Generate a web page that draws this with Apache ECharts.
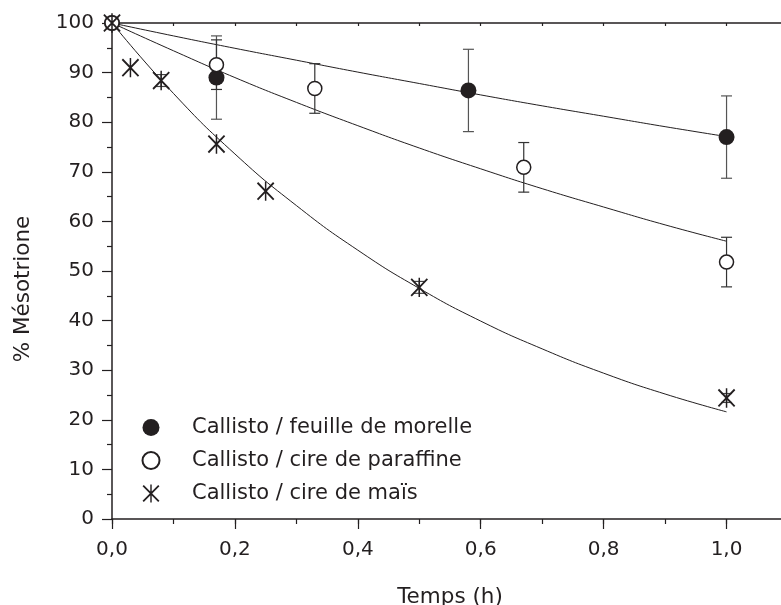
<!DOCTYPE html>
<html><head><meta charset="utf-8">
<script src="https://cdn.jsdelivr.net/npm/echarts@6/dist/echarts.min.js"></script>
<style>html,body{margin:0;padding:0;overflow:hidden;background:#fff}#c{width:800px;height:605px}</style>
</head><body><div id="c"></div>
<script>
// ---- data ----
const seriesNames = ['Callisto / feuille de morelle', 'Callisto / cire de paraffine', 'Callisto / cire de maïs'];
const timeFeuille = [0, 0.17, 0.58, 1.0];
const valFeuille  = [100, 89.0, 86.4, 77.0];
const errFeuille  = [0, 8.4, 8.3, 8.3];
const timeParaffine = [0, 0.17, 0.33, 0.67, 1.0];
const valParaffine  = [100, 91.6, 86.8, 70.9, 51.8];
const errParaffine  = [0, 5.0, 5.0, 5.0, 5.0];
const timeMais = [0, 0.03, 0.08, 0.17, 0.25, 0.5, 1.0];
const valMais  = [100, 91.0, 88.4, 75.6, 66.1, 46.7, 24.4];
const errMais  = [0, 0, 1.2, 0, 0, 1.2, 0.9];
// fitted curves, read at regular times
const fitTime      = [0, 0.1, 0.2, 0.3, 0.4, 0.5, 0.6, 0.7, 0.8, 0.9, 1.0];
const fitFeuille   = [100, 97.4, 94.9, 92.5, 90.1, 87.8, 85.5, 83.3, 81.2, 79.1, 77.1];
const fitParaffine = [100, 94.4, 89.0, 84.0, 79.3, 74.8, 70.6, 66.6, 62.9, 59.3, 56.0];
const fitMais      = [100, 85.8, 73.6, 63.2, 54.2, 46.5, 39.9, 34.3, 29.4, 25.2, 21.6];
const xAxisTitle = 'Temps (h)';
const yAxisTitle = '% Mésotrione';

// ---- styling ----
const INK = '#231f20';
const FONT = 'DejaVu Sans';
const STAR = 'path://M46,0 L54,0 L54,100 L46,100 Z M10,3 L97,90 L90,97 L3,10 Z M97,10 L10,97 L3,90 L90,3 Z';

const zip = (xs, ys) => xs.map((x, i) => [x, ys[i]]);
const errData = (xs, ys, es) => xs.map((x, i) => [x, ys[i] - es[i], ys[i] + es[i]]).filter((d, i) => es[i] > 0);

function errSeries(data, color) {
  return {
    type: 'custom', xAxisIndex: 0, yAxisIndex: 0, z: 3, silent: true,
    data: data, encode: { x: 0, y: [1, 2] },
    renderItem: function (params, api) {
      const x = api.value(0), lo = api.value(1), hi = api.value(2);
      const a = api.coord([x, lo]), b = api.coord([x, hi]);
      const hw = 5.5, st = { stroke: color, lineWidth: 1.2 };
      return { type: 'group', children: [
        { type: 'line', shape: { x1: a[0], y1: a[1], x2: b[0], y2: b[1] }, style: st },
        { type: 'line', shape: { x1: a[0] - hw, y1: a[1], x2: a[0] + hw, y2: a[1] }, style: st },
        { type: 'line', shape: { x1: b[0] - hw, y1: b[1], x2: b[0] + hw, y2: b[1] }, style: st }
      ] };
    }
  };
}
function fitSeries(ys) {
  return { type: 'line', name: 'fit', xAxisIndex: 0, yAxisIndex: 0, data: zip(fitTime, ys), smooth: true,
    showSymbol: false, silent: true, z: 2, lineStyle: { color: INK, width: 1 } };
}

const chart = echarts.init(document.getElementById('c'), null, { renderer: 'canvas' });
const axisLine = { show: true, lineStyle: { color: INK, width: 1.5 } };
chart.setOption({
  animation: false,
  backgroundColor: '#fff',
  textStyle: { fontFamily: FONT, color: INK },
  grid: { left: 112, right: 12, top: 23, bottom: 86, containLabel: false, outerBoundsMode: 'none' },
  xAxis: [
    { type: 'value', position: 'bottom', min: 0, max: 1.1, interval: 0.2,
      axisLine: axisLine, splitLine: { show: false },
      axisTick: { show: true, inside: false, length: 10, lineStyle: { color: INK, width: 1.2 } },
      axisLabel: { margin: 21, fontSize: 20, fontFamily: FONT, color: INK, showMaxLabel: false,
        formatter: v => (v <= 1.0001 && Math.round(v * 10) % 2 === 0) ? v.toFixed(1).replace('.', ',') : '' },
      name: xAxisTitle, nameLocation: 'middle', nameGap: 67,
      nameTextStyle: { fontSize: 21.5, fontFamily: FONT, color: INK } },
    { type: 'value', position: 'bottom', min: 0, max: 1.1, interval: 0.1,
      axisLine: { show: false }, splitLine: { show: false }, axisLabel: { show: false },
      axisTick: { show: true, inside: false, length: 5, lineStyle: { color: INK, width: 1.2 } } },
    { type: 'value', position: 'top', min: 0, max: 1.1, interval: 0.1,
      axisLine: axisLine, splitLine: { show: false }, axisLabel: { show: false },
      axisTick: { show: true, inside: true, length: 3, lineStyle: { color: INK, width: 1.2 } } }
  ],
  yAxis: [
    { type: 'value', position: 'left', min: 0, max: 100, interval: 10,
      axisLine: axisLine, splitLine: { show: false },
      axisTick: { show: true, inside: false, length: 10, lineStyle: { color: INK, width: 1.2 } },
      minorTick: { show: true, splitNumber: 2, length: 5, lineStyle: { color: INK, width: 1.2 } },
      axisLabel: { margin: 18, fontSize: 20, fontFamily: FONT, color: INK },
      name: yAxisTitle, nameLocation: 'middle', nameGap: 78, nameRotate: 90,
      nameTextStyle: { fontSize: 21.5, fontFamily: FONT, color: INK, padding: [0, 36, 0, 0] } }
  ],
  legend: {
    orient: 'vertical', left: 136.5, top: 412, itemWidth: 17, itemHeight: 18, itemGap: 12,
    data: seriesNames, selectedMode: false,
    textStyle: { fontSize: 21, fontFamily: FONT, color: INK, lineHeight: 18, padding: [0, 0, 0, 27.5] }
  },
  series: [
    fitSeries(fitFeuille), fitSeries(fitParaffine), fitSeries(fitMais),
    errSeries(errData(timeFeuille, valFeuille, errFeuille), '#555'),
    errSeries(errData(timeParaffine, valParaffine, errParaffine), '#333'),
    errSeries(errData(timeMais, valMais, errMais), '#444'),
    { type: 'scatter', name: seriesNames[0], xAxisIndex: 0, yAxisIndex: 0, z: 5,
      data: zip(timeFeuille, valFeuille), symbol: 'circle', symbolSize: 16,
      itemStyle: { color: INK, opacity: 1 } },
    { type: 'scatter', name: seriesNames[1], xAxisIndex: 0, yAxisIndex: 0, z: 6,
      data: zip(timeParaffine, valParaffine), symbol: 'circle', symbolSize: 14,
      itemStyle: { color: '#fff', borderColor: INK, borderWidth: 1.5, opacity: 1 } },
    { type: 'scatter', name: seriesNames[2], xAxisIndex: 0, yAxisIndex: 0, z: 7,
      data: zip(timeMais, valMais), symbol: STAR, symbolSize: [17.5, 19.4],
      itemStyle: { color: INK, opacity: 1 } }
  ]
});
</script></body></html>
